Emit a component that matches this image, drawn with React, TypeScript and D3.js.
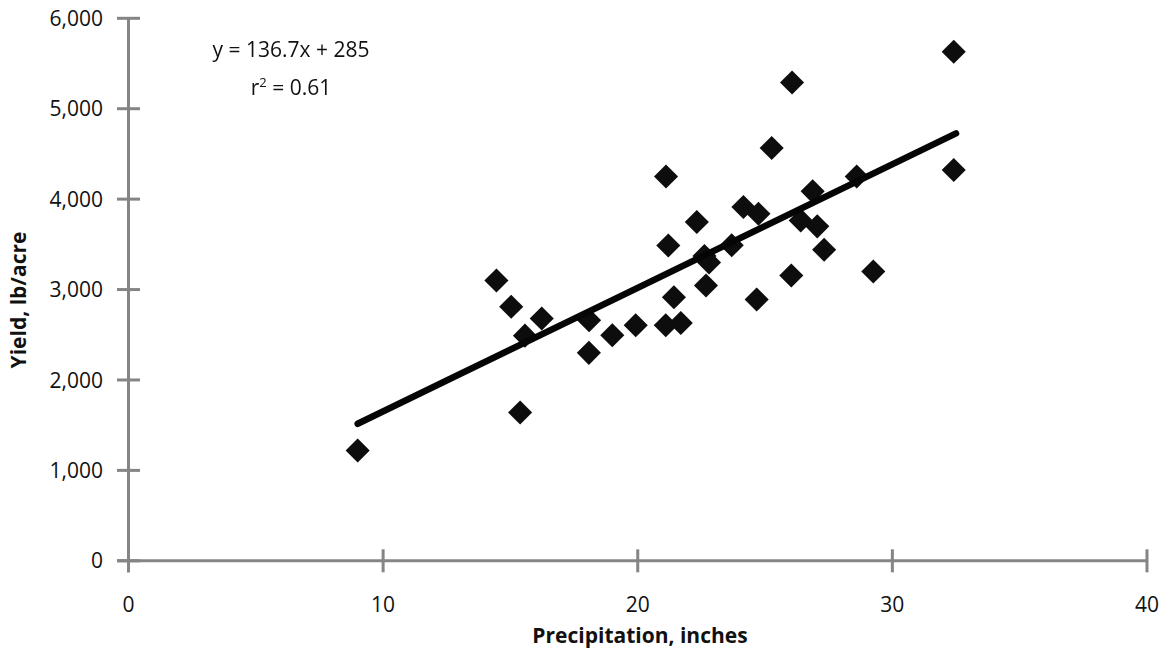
import React from "react";
import * as d3 from "d3";

const precipitation = [9.0, 14.45, 15.03, 15.57, 15.38, 16.23, 18.09, 18.08, 19.0, 19.92, 21.1, 21.69, 21.42, 21.2, 21.11, 22.32, 22.68, 22.62, 22.8, 23.69, 24.15, 24.74, 24.67, 25.26, 26.06, 26.03, 26.87, 26.4, 27.05, 27.32, 28.6, 29.25, 32.41, 32.41];
const yieldValues = [1220, 3100, 2810, 2490, 1640, 2680, 2660, 2300, 2495, 2605, 2605, 2630, 2915, 3488, 4250, 3747, 3045, 3370, 3300, 3490, 3913, 3839, 2890, 4566, 5290, 3156, 4086, 3765, 3699, 3441, 4250, 3200, 5630, 4322];
const xTicks = [0, 10, 20, 30, 40];
const yTicks = [0, 1000, 2000, 3000, 4000, 5000, 6000];
const slope = 136.7;
const intercept = 285;
const trendRange = [9.0, 32.5];
const equationText = "y = 136.7x + 285";
const r2Value = "0.61";
const xTitle = "Precipitation, inches";
const yTitle = "Yield, lb/acre";

export default function App() {
  const W = 1176, H = 651;
  const x = d3.scaleLinear().domain([0, 40]).range([128.5, 1147]);
  const y = d3.scaleLinear().domain([0, 6000]).range([560.8, 18.3]);
  const axisColor = "#858585";
  const font = "'Open Sans', sans-serif";
  const fs = 21;
  const diamond = d3.symbol().type(d3.symbolSquare).size(290)();
  const line = d3.line<number>().x((d) => x(d)).y((d) => y(slope * d + intercept));
  const tl = 11.5;
  const fmt = d3.format(",");

  return (
    <svg width={W} height={H} style={{ position: "absolute", left: 0, top: 0, background: "#fff" }} fontFamily={font}>
      <defs>
        <filter id="soft" x="-20%" y="-20%" width="140%" height="140%">
          <feGaussianBlur stdDeviation="0.6" />
        </filter>
      </defs>
      {/* axes */}
      <line x1={x(0)} x2={x(0)} y1={y(6000)} y2={y(0) + tl} stroke={axisColor} strokeWidth={3} />
      <line x1={x(0) - tl} x2={x(40)} y1={y(0)} y2={y(0)} stroke={axisColor} strokeWidth={3} />
      {yTicks.map((t) => (
        <g key={"y" + t}>
          <line x1={x(0) - tl} x2={x(0) + tl} y1={y(t)} y2={y(t)} stroke={axisColor} strokeWidth={3} />
          <text x={103} y={y(t)} dy="0.36em" textAnchor="end" fontSize={fs} fill="#111">{fmt(t)}</text>
        </g>
      ))}
      {xTicks.map((t) => (
        <g key={"x" + t}>
          <line x1={x(t)} x2={x(t)} y1={y(0) - tl} y2={y(0) + tl} stroke={axisColor} strokeWidth={3} />
          <text x={x(t)} y={612} textAnchor="middle" fontSize={fs} fill="#111">{t}</text>
        </g>
      ))}
      <text x={640} y={643} textAnchor="middle" fontSize={fs} fontWeight="bold" fill="#111">{xTitle}</text>
      <text transform={`translate(26,${300}) rotate(-90)`} textAnchor="middle" fontSize={fs} fontWeight="bold" fill="#111">{yTitle}</text>
      {/* points */}
      <g filter="url(#soft)">
        {precipitation.map((p, i) => (
          <path key={i} d={diamond!} transform={`translate(${x(p)},${y(yieldValues[i])}) rotate(45)`} fill="#0a0a0a" />
        ))}
      </g>
      {/* trend line */}
      <path d={line(trendRange)!} stroke="#050505" strokeWidth={6.5} fill="none" strokeLinecap="round" />
      {/* equation */}
      <text x={291} y={57} textAnchor="middle" fontSize={fs} fill="#111">{equationText}</text>
      <text x={291} y={95} textAnchor="middle" fontSize={fs} fill="#111">
        r<tspan dy={-8} fontSize={13}>2</tspan><tspan dy={8}>{" = " + r2Value}</tspan>
      </text>
    </svg>
  );
}
